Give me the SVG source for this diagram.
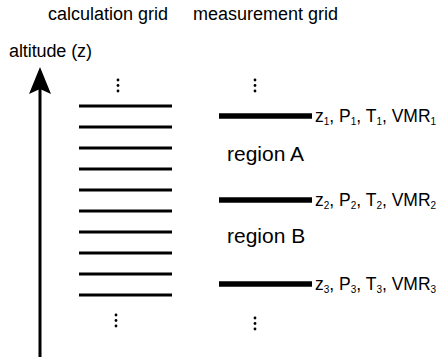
<svg xmlns="http://www.w3.org/2000/svg" width="444" height="357" viewBox="0 0 444 357">
<style>
text{font-family:"Liberation Sans",Arial,sans-serif;fill:#000}
.hd{font-size:18px}
.lb{font-size:17.5px}
.rg{font-size:21px}
.sb{font-size:10px}
.cg{stroke:#000;stroke-width:3}
.mg{stroke:#000;stroke-width:5.5}
.dot{fill:#000}
</style>
<rect width="444" height="357" fill="#fff"/>
<text class="hd" x="48" y="20">calculation grid</text>
<text class="hd" x="193" y="20">measurement grid</text>
<text class="hd" x="9" y="57" textLength="83">altitude (z)</text>
<g id="axis">
<line x1="40" y1="357" x2="40" y2="88" stroke="#000" stroke-width="3"/>
<path d="M40,67 L51,94 L40,89 L29,94 Z" fill="#000"/>
</g>
<g id="calc-grid">
<circle class="dot" cx="118" cy="80" r="1.4"/><circle class="dot" cx="118" cy="85.5" r="1.4"/><circle class="dot" cx="118" cy="91" r="1.4"/>
<line class="cg" x1="79" y1="106" x2="172" y2="106"/>
<line class="cg" x1="79" y1="127" x2="172" y2="127"/>
<line class="cg" x1="79" y1="148" x2="172" y2="148"/>
<line class="cg" x1="79" y1="169" x2="172" y2="169"/>
<line class="cg" x1="79" y1="190" x2="172" y2="190"/>
<line class="cg" x1="79" y1="211" x2="172" y2="211"/>
<line class="cg" x1="79" y1="232" x2="172" y2="232"/>
<line class="cg" x1="79" y1="253" x2="172" y2="253"/>
<line class="cg" x1="79" y1="274" x2="172" y2="274"/>
<line class="cg" x1="79" y1="295" x2="172" y2="295"/>
<circle class="dot" cx="116" cy="315" r="1.4"/><circle class="dot" cx="116" cy="320.5" r="1.4"/><circle class="dot" cx="116" cy="326" r="1.4"/>
</g>
<g id="meas-grid">
<circle class="dot" cx="255" cy="80" r="1.4"/><circle class="dot" cx="255" cy="85.5" r="1.4"/><circle class="dot" cx="255" cy="91" r="1.4"/>
<line class="mg" x1="219" y1="116" x2="312" y2="116"/>
<line class="mg" x1="219" y1="200" x2="312" y2="200"/>
<line class="mg" x1="219" y1="284" x2="312" y2="284"/>
<circle class="dot" cx="255" cy="318" r="1.4"/><circle class="dot" cx="255" cy="323.5" r="1.4"/><circle class="dot" cx="255" cy="329" r="1.4"/>
</g>
<g id="level1"><text class="lb" x="315" y="122">z<tspan class="sb" dy="3">1</tspan><tspan dy="-3">, P</tspan><tspan class="sb" dy="3">1</tspan><tspan dy="-3">, T</tspan><tspan class="sb" dy="3">1</tspan><tspan dy="-3">, VMR</tspan><tspan class="sb" dy="3">1</tspan></text></g>
<g id="level2"><text class="lb" x="315" y="206">z<tspan class="sb" dy="3">2</tspan><tspan dy="-3">, P</tspan><tspan class="sb" dy="3">2</tspan><tspan dy="-3">, T</tspan><tspan class="sb" dy="3">2</tspan><tspan dy="-3">, VMR</tspan><tspan class="sb" dy="3">2</tspan></text></g>
<g id="level3"><text class="lb" x="315" y="290">z<tspan class="sb" dy="3">3</tspan><tspan dy="-3">, P</tspan><tspan class="sb" dy="3">3</tspan><tspan dy="-3">, T</tspan><tspan class="sb" dy="3">3</tspan><tspan dy="-3">, VMR</tspan><tspan class="sb" dy="3">3</tspan></text></g>
<g id="regionA"><text class="rg" x="227" y="161">region A</text></g>
<g id="regionB"><text class="rg" x="227" y="243">region B</text></g>
</svg>
